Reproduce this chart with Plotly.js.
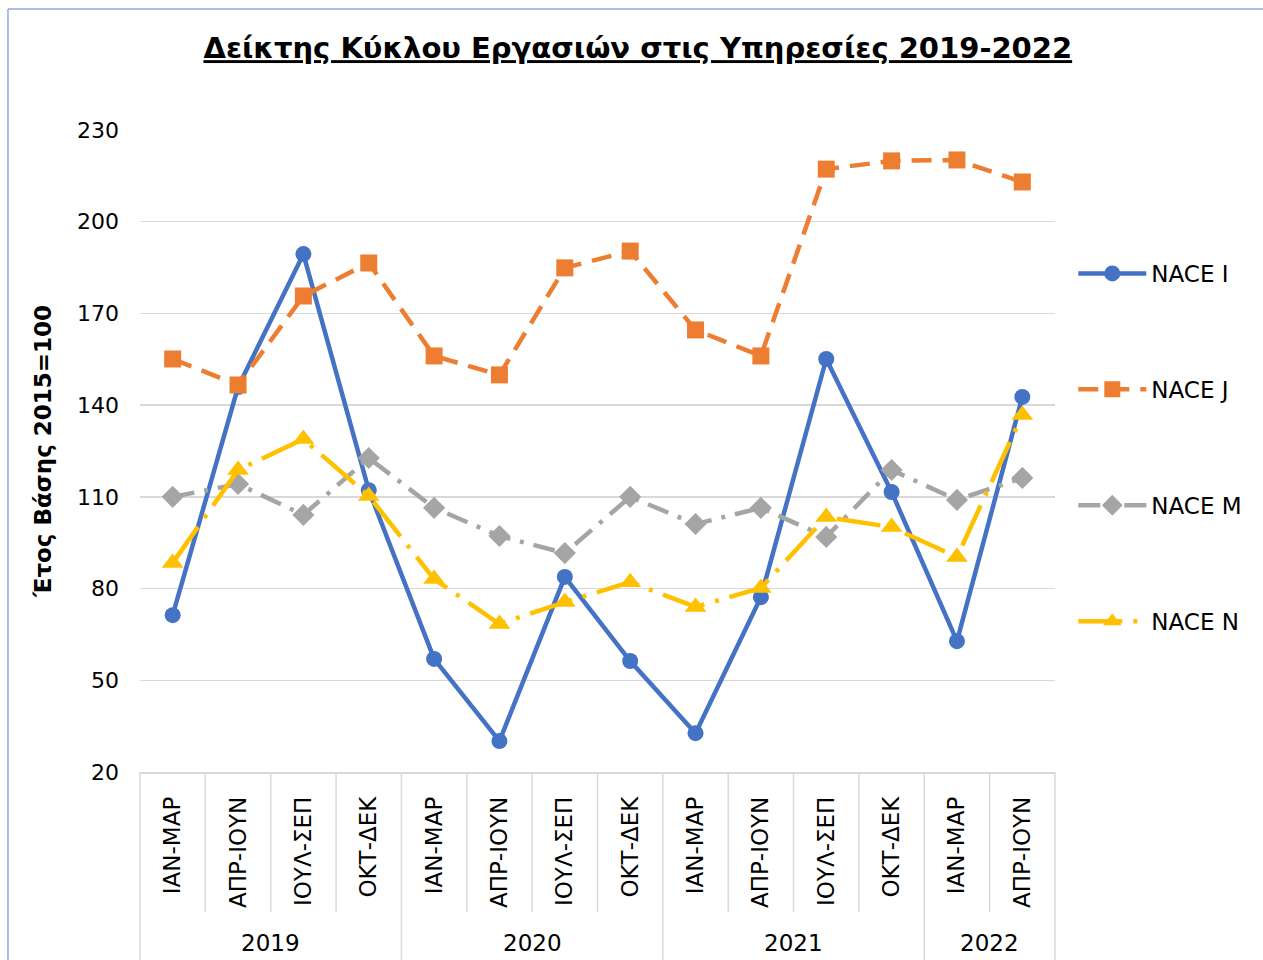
<!DOCTYPE html>
<html>
<head>
<meta charset="utf-8">
<script src="https://cdn.plot.ly/plotly-3.0.1.min.js"></script>
<style>
  html, body { margin: 0; padding: 0; background: #ffffff; }
  #chart { width: 1263px; height: 960px; }
</style>
</head>
<body>
<div id="chart"></div>
<script>
// ---- Data ----
const years = ["2019", "2019", "2019", "2019", "2020", "2020", "2020", "2020", "2021", "2021", "2021", "2021", "2022", "2022"];
const quarters = ["IAN-MAP", "ΑΠΡ-ΙΟΥΝ", "ΙΟΥΛ-ΣΕΠ", "ΟΚΤ-ΔΕΚ", "IAN-MAP", "ΑΠΡ-ΙΟΥΝ", "ΙΟΥΛ-ΣΕΠ", "ΟΚΤ-ΔΕΚ", "IAN-MAP", "ΑΠΡ-ΙΟΥΝ", "ΙΟΥΛ-ΣΕΠ", "ΟΚΤ-ΔΕΚ", "IAN-MAP", "ΑΠΡ-ΙΟΥΝ"];
const naceI = [71.3, 145.9, 189.4, 112.2, 57.0, 30.1, 83.8, 56.3, 32.7, 77.2, 155.1, 111.6, 62.8, 142.7];
const naceJ = [155.1, 146.6, 175.7, 186.5, 156.1, 149.9, 184.9, 190.4, 164.6, 156.1, 217.2, 219.9, 220.2, 213.0];
const naceM = [110.0, 114.2, 104.1, 122.7, 106.4, 97.2, 91.6, 110.0, 101.1, 106.4, 96.9, 118.8, 109.0, 116.2];
const naceN = [88.4, 118.8, 128.9, 110.3, 83.1, 68.4, 75.6, 82.1, 74.0, 80.2, 103.4, 100.1, 90.3, 136.8];
const yTicks = [20, 50, 80, 110, 140, 170, 200, 230];

const idx = quarters.map((q, i) => i);
const FONT = "DejaVu Sans, Verdana, sans-serif";
const GRID = "#d9d9d9";

function trace(name, y, color, dash, symbol, size, group) {
  return {
    type: "scatter", mode: "lines+markers", name: name, x: idx, y: y,
    legendgroup: group,
    line: { color: color, width: 4.5, dash: dash },
    marker: { color: color, symbol: symbol, size: size }
  };
}
const data = [
  trace("NACE I", naceI, "#4472C4", "solid", "circle", 16, "g1"),
  trace("NACE J", naceJ, "#ED7D31", "20px,11px", "square", 17, "g2"),
  trace("NACE M", naceM, "#A5A5A5", "22px,10px,4px,10px", "diamond", 17, "g3"),
  trace("NACE N", naceN, "#FFC000", "44px,11px,4px,11px", "triangle-up", 19, "g4")
];

// separators and year labels
const shapes = [];
const annotations = [];
for (let i = 1; i < years.length; i++) {
  const isYear = years[i] !== years[i - 1];
  shapes.push({ type: "line", xref: "x", yref: "paper", x0: i - 0.5, x1: i - 0.5,
    y0: 0, y1: isYear ? -0.293 : -0.218, line: { color: GRID, width: 1.5 } });
}
shapes.push({ type: "line", xref: "paper", yref: "paper", x0: 0, x1: 0, y0: 0, y1: -0.3, line: { color: GRID, width: 1.5 } });
shapes.push({ type: "line", xref: "paper", yref: "paper", x0: 1, x1: 1, y0: 0, y1: -0.3, line: { color: GRID, width: 1.5 } });
// outer chart frame (left and top edges)
shapes.push({ type: "line", xref: "paper", yref: "paper", x0: -0.1443, x1: -0.1443, y0: 1.1885, y1: -0.4, line: { color: "#8EAADB", width: 1.5 } });
shapes.push({ type: "line", xref: "paper", yref: "paper", x0: -0.1443, x1: 1.4, y0: 1.1885, y1: 1.1885, line: { color: "#8EAADB", width: 1.5 } });

const uniqYears = [...new Set(years)];
uniqYears.forEach(yr => {
  const pos = idx.filter(i => years[i] === yr);
  const mid = (pos[0] + pos[pos.length - 1]) / 2;
  annotations.push({ xref: "x", yref: "paper", x: mid, y: -0.266, text: yr, showarrow: false,
    font: { family: FONT, size: 23, color: "#000000" }, xanchor: "center", yanchor: "middle" });
});

const layout = {
  width: 1263, height: 960,
  paper_bgcolor: "#ffffff", plot_bgcolor: "#ffffff",
  margin: { l: 140, r: 208, t: 130, b: 188 },
  font: { family: FONT, color: "#000000" },
  title: { text: "<b><u>Δείκτης Κύκλου Εργασιών στις Υπηρεσίες 2019-2022</u></b>",
    font: { family: FONT, size: 29, color: "#000000" },
    xref: "container", x: 0.505, xanchor: "center", yref: "container", y: 0.95, yanchor: "middle" },
  xaxis: {
    range: [-0.5, 13.5], tickmode: "array", tickvals: idx, ticktext: quarters,
    tickangle: -90, ticks: "", showgrid: false, zeroline: false,
    showline: true, linecolor: GRID, linewidth: 1.5,
    tickfont: { family: FONT, size: 23, color: "#000000" }, ticklabelstandoff: 14
  },
  yaxis: {
    range: [20, 230], tickmode: "array", tickvals: yTicks, ticktext: yTicks.map(String),
    showgrid: true, gridcolor: GRID, gridwidth: 1.5, zeroline: false, showline: false, ticks: "",
    tickfont: { family: FONT, size: 22, color: "#000000" }, ticklabelstandoff: 20,
    title: { text: "<b>Έτος Βάσης 2015=100</b>", font: { family: FONT, size: 23, color: "#000000" }, standoff: 18 }
  },
  showlegend: true,
  legend: { x: 1.02, xanchor: "left", y: 0.81, yanchor: "top", tracegroupgap: 83,
    font: { family: FONT, size: 23, color: "#000000" }, itemwidth: 68, bgcolor: "rgba(0,0,0,0)" },
  shapes: shapes,
  annotations: annotations
};

Plotly.newPlot("chart", data, layout, { displayModeBar: false, staticPlot: true });
</script>
</body>
</html>
